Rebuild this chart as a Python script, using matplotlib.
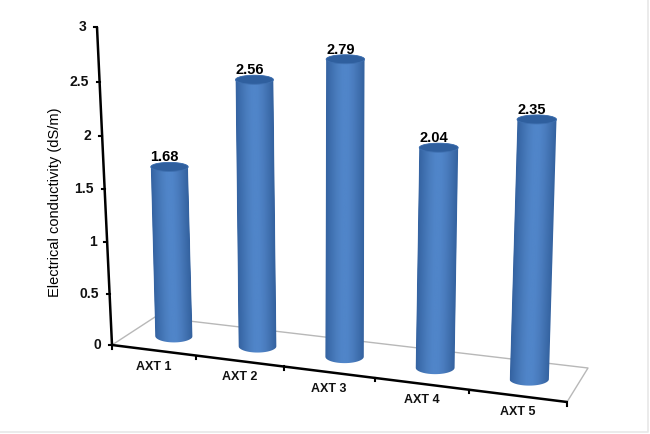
import matplotlib

matplotlib.use("Agg")

import matplotlib.pyplot as plt
import numpy as np
from matplotlib.colors import LinearSegmentedColormap
from matplotlib.patches import Polygon
from matplotlib.transforms import Affine2D

categories = ["AXT 1", "AXT 2", "AXT 3", "AXT 4", "AXT 5"]
values = [1.68, 2.56, 2.79, 2.04, 2.35]
value_labels = ["1.68", "2.56", "2.79", "2.04", "2.35"]
y_ticks = [0, 0.5, 1, 1.5, 2, 2.5, 3]
y_tick_labels = ["0", "0.5", "1", "1.5", "2", "2.5", "3"]

plt.rcParams["font.family"] = ["Liberation Sans", "DejaVu Sans"]

body = LinearSegmentedColormap.from_list(
    "body", ["#3462a0", "#3f70b0", "#4a7dbe", "#5085c9", "#5085c9", "#4a7cbe", "#3f6fae", "#33619e"]
)
gradient = np.linspace(0, 1, 256).reshape(1, -1)


def project(k, d=0.0, v=0.0):
    # hand fitted perspective: k along the categories, d into the floor, v up
    fx = 112 + 82.25 * k + 1.75 * k * k
    fy = 346 + (fx - 112) * 57 / 455
    dx = 43 - 4.4 * k
    dy = -28 - 1.2 * k
    lean = -5 + 3.2 * d + 1.475 * k
    scale = 102 - 9.5 * d + 2.25 * k + 1.33 * v
    return fx + d * dx + v * lean, fy + d * dy - v * scale


def ellipse(cx, cy, rx, ry, start=0.0, stop=2 * np.pi, n=60):
    t = np.linspace(start, stop, n)
    return np.column_stack([cx + rx * np.cos(t), cy + ry * np.sin(t)])


def draw_cylinder(ax, k, value):
    bx, by = project(k, 0.5, 0)
    tx, ty = project(k, 0.5, value)
    rx = 18.6 + 0.25 * k

    # the gradient lives in a unit box, sheared onto the leaning cylinder
    to_bar = Affine2D(np.array([[rx, tx - bx, bx], [0, ty - by, by], [0, 0, 1]], dtype=float))
    im = ax.imshow(
        gradient, extent=(-1, 1, -0.1, 1.1), aspect="auto", cmap=body, vmin=0, vmax=1,
        interpolation="bilinear", transform=to_bar + ax.transData, zorder=3,
    )
    outline = np.vstack([
        ellipse(bx, by, rx, 6.5, 0, np.pi),
        ellipse(tx, ty, rx, 4.5, np.pi, 2 * np.pi),
    ])
    clip = Polygon(outline, closed=True, transform=ax.transData)
    im.set_clip_path(clip)
    ax.add_patch(Polygon(ellipse(tx, ty, rx, 4.5), closed=True, fc="#2f5f9e", ec="#3f70b0", lw=0.6, zorder=4))


fig = plt.figure(figsize=(6.5, 4.35), dpi=100)
ax = fig.add_axes([0, 0, 1, 1])

# picture edge
ax.plot([0, 648, 648], [433, 433, 0], color="#e8e8e8", lw=1.2, zorder=1)

# floor
n_cat = len(categories)
floor = [project(0, 0), project(0, 1), project(n_cat, 1), project(n_cat, 0)]
ax.plot(*zip(*floor), color="#b8b8b8", lw=1.0, zorder=2)

# axes
ax.plot(*zip(project(0, 0, 0), project(0, 0, 3)), color="black", lw=1.8, solid_capstyle="butt", zorder=5)
ax.plot(*zip(project(0, 0), project(n_cat, 0)), color="black", lw=1.8, solid_capstyle="butt", zorder=5)

for tick, label in zip(y_ticks, y_tick_labels):
    x, y = project(0, 0, tick)
    ax.plot([x - 3, x], [y, y], color="black", lw=1.5, zorder=5)
    ax.text(x - 10.5, y - 1, label, ha="right", va="center", fontsize=10, fontweight="bold", color="#111111")

for k in range(n_cat + 1):
    x, y = project(k, 0)
    ax.plot([x, x], [y, y + 3.5], color="black", lw=1.5, zorder=5)

for i, (name, value, label) in enumerate(zip(categories, values, value_labels)):
    k = i + 0.5
    draw_cylinder(ax, k, value)
    x, y = project(k, 0)
    ax.text(x, y + 15.5, name, ha="center", va="center", fontsize=9, fontweight="bold", color="#111111")
    tx, ty = project(k, 0.5, value)
    ax.text(tx - 5, ty - 10.5, label, ha="center", va="center", fontsize=10.5, fontweight="bold", color="black", zorder=6)

ax.text(55, 202, "Electrical conductivity (dS/m)", rotation=90, ha="center", va="center", fontsize=10.5, color="black")

ax.set_xlim(0, 650)
ax.set_ylim(435, 0)
ax.axis("off")

fig.savefig("out.png", dpi=100)
